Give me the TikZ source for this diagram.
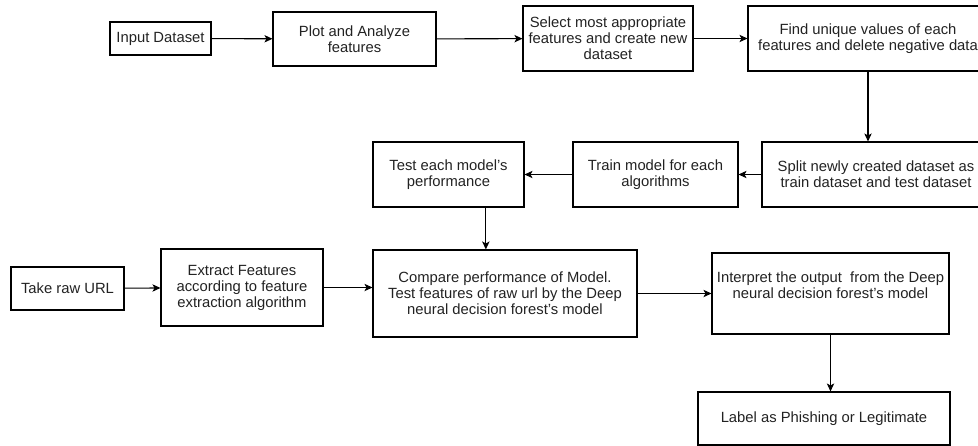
\documentclass[tikz,border=0pt]{standalone}
\usepackage{fontspec}
\setmainfont{Liberation Sans}
\usepackage{tikz}
\usetikzlibrary{arrows.meta, positioning, calc}
\definecolor{inkGray}{RGB}{34, 34, 34}

\begin{document}
\begin{tikzpicture}[
    x=0.75pt, y=-0.75pt,
    box/.style={draw, line width=0.8pt, inner sep=1pt, align=center, text=inkGray, font=\fontsize{11.1pt}{12pt}\selectfont},
    arrow/.style={-{Stealth[length=6pt, width=5.5pt, inset=1.5pt]}, line width=0.8pt}
]
\useasboundingbox (0, 0) rectangle (978, 446);

% Top row: dataset preparation
\node[box, minimum width=75.75pt, minimum height=24.75pt] (input) at (160.5, 38.5) {Input Dataset};

\node[box, minimum width=122.25pt, minimum height=40.5pt] (plot) at (354.5, 39) {Plot and Analyze\\features};

\node[box, minimum width=127.5pt, minimum height=48.75pt] (select) at (608, 38.5) {Select most appropriate\\features and create new\\dataset};

\node[box, minimum width=180pt, minimum height=48.75pt] (unique) at (868, 38.5) {Find unique values of each\\features and delete negative data};

% Middle row: training
\node[box, minimum width=171pt, minimum height=48.75pt] (split) at (876, 174.5) {Split newly created dataset as\\train dataset and test dataset};

\node[box, minimum width=123.75pt, minimum height=48.75pt] (train) at (655.5, 174.5) {Train model for each\\algorithms};

\node[box, minimum width=113.25pt, minimum height=48.75pt] (test) at (448.5, 174.5) {Test each model's\\performance};

% Bottom row: raw URL
\node[box, minimum width=84.75pt, minimum height=32.25pt] (rawurl) at (67.5, 288.5) {Take raw URL};

\node[box, minimum width=121.5pt, minimum height=57.75pt] (extract) at (242, 287.5) {Extract Features\\according to feature\\extraction algorithm};

\node[box, minimum width=198pt, minimum height=65.25pt] (compare) at (505, 293.5) {Compare performance of Model.\\Test features of raw url by the Deep\\neural decision forest's model};

\node[box, minimum width=177.75pt, minimum height=60.75pt] (interpret) at (830.5, 293.5) {Interpret the output~ from the Deep\\neural decision forest's model\\\mbox{}};

% Output
\node[box, minimum width=189pt, minimum height=39.75pt] (label) at (824, 418.5) {Label as Phishing or Legitimate};

% Arrows
\draw[arrow] (input) -- (plot);
\draw[arrow] (plot) -- (select);
\draw[arrow] (select) -- (unique);
\draw[arrow] (unique.south) -- (unique.south |- split.north);
\draw[arrow] (split) -- (train);
\draw[arrow] (train) -- (test);
\draw[arrow] ([xshift=28pt]test.south) -- ([xshift=28pt]test.south |- compare.north);
\draw[arrow] (rawurl) -- (extract);
\draw[arrow] (extract.east) -- (extract.east -| compare.west);
\draw[arrow] (compare) -- (interpret);
\draw[arrow] (interpret.south) -- (interpret.south |- label.north);

\end{tikzpicture}
\end{document}
